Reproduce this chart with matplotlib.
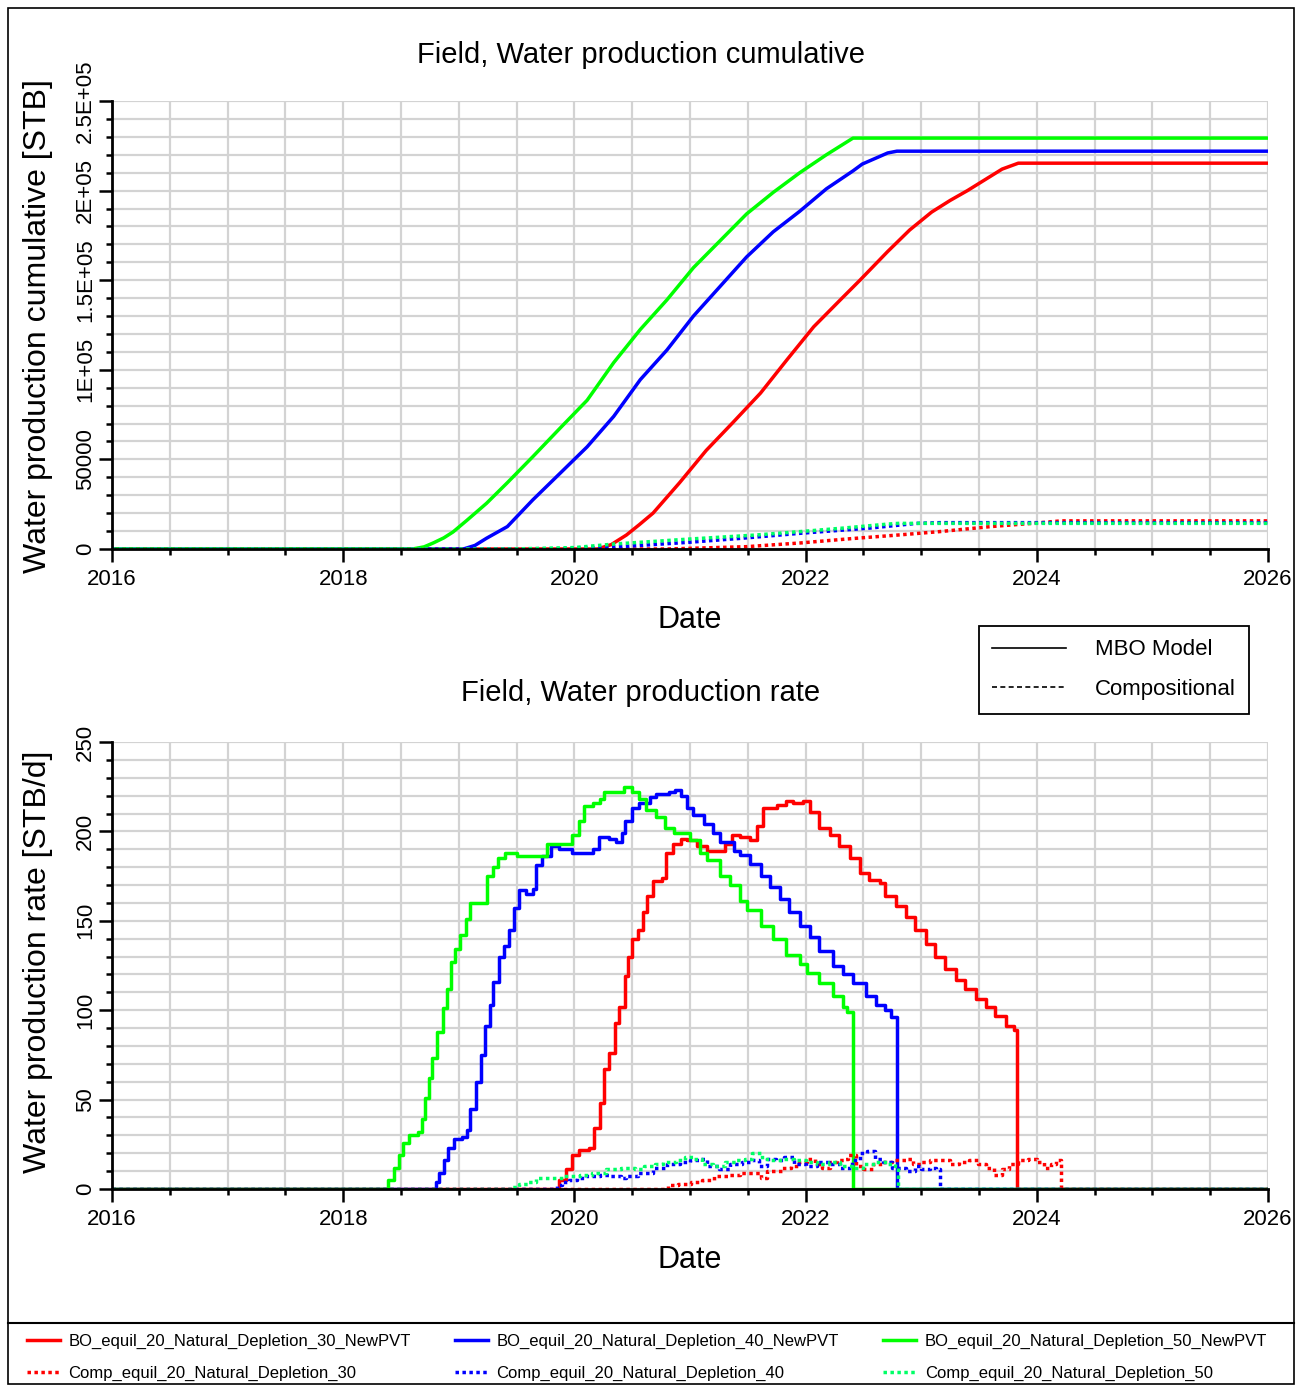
import matplotlib.pyplot as plt
from matplotlib.lines import Line2D
from matplotlib.patches import Rectangle

plt.rcParams["font.family"] = ["Liberation Sans", "DejaVu Sans"]

# ---------------- cumulative water production (STB) ----------------
bo30_cum_t = [2016.0, 2020.20, 2020.32, 2020.45, 2020.56, 2020.68, 2020.91, 2021.14, 2021.37, 2021.61,
              2021.84, 2022.07, 2022.30, 2022.47, 2022.71, 2022.90, 2023.09, 2023.25, 2023.40, 2023.55,
              2023.70, 2023.84, 2026.0]
bo30_cum = [0, 0, 2500, 7800, 13500, 20000, 37000, 55000, 70500, 87000,
            105700, 124000, 139000, 150000, 166000, 178000, 188000, 194500, 200000, 206000,
            212000, 215300, 215300]

bo40_cum_t = [2016.0, 2019.04, 2019.14, 2019.24, 2019.42, 2019.64, 2019.88, 2020.11, 2020.34, 2020.57,
              2020.80, 2021.03, 2021.26, 2021.49, 2021.72, 2021.95, 2022.18, 2022.41, 2022.49,
              2022.71, 2022.79, 2026.0]
bo40_cum = [0, 0, 2000, 6000, 12500, 27400, 42500, 57000, 74000, 94500,
            111000, 130000, 146500, 163000, 177000, 188500, 201000, 211000, 214800,
            221000, 222000, 222000]

bo50_cum_t = [2016.0, 2018.60, 2018.70, 2018.78, 2018.87, 2018.95, 2019.07, 2019.24, 2019.42, 2019.64,
              2019.88, 2020.11, 2020.34, 2020.57, 2020.80, 2021.03, 2021.26, 2021.49, 2021.72, 2021.95,
              2022.18, 2022.41, 2026.0]
bo50_cum = [0, 0, 1200, 3400, 6200, 9500, 16000, 25500, 37000, 51500,
            67700, 83000, 104000, 122500, 139000, 157000, 172000, 187000, 199000, 210000,
            220000, 229300, 229300]

comp30_cum_t = [2016.0, 2020.80, 2021.49, 2021.96, 2022.36, 2022.80, 2023.16, 2023.60, 2023.96,
                2024.21, 2026.0]
comp30_cum = [0, 0, 1300, 3400, 5600, 7800, 9700, 12500, 14300, 15700, 15700]

comp40_cum_t = [2016.0, 2019.85, 2020.40, 2020.98, 2021.45, 2021.96, 2022.56, 2022.96, 2023.16, 2026.0]
comp40_cum = [0, 0, 1300, 3700, 6000, 8800, 11700, 14300, 14700, 14700]

comp50_cum_t = [2016.0, 2019.45, 2020.00, 2020.35, 2020.98, 2021.57, 2021.95, 2022.33, 2022.71,
                2022.80, 2026.0]
comp50_cum = [0, 0, 800, 2800, 5500, 7800, 9700, 11700, 13900, 14300, 14300]

# ---------------- water production rate (STB/d) ----------------
bo30_rate_t = [2016.0, 2019.87, 2019.93, 2019.98, 2020.04, 2020.13, 2020.17, 2020.22, 2020.26, 2020.30,
               2020.35, 2020.39, 2020.44, 2020.46, 2020.50, 2020.55, 2020.59, 2020.63, 2020.68, 2020.76,
               2020.79, 2020.85, 2020.92, 2020.97, 2021.06, 2021.15, 2021.23, 2021.30, 2021.36, 2021.43,
               2021.52, 2021.58, 2021.63, 2021.75, 2021.83, 2021.89, 2021.98, 2022.04, 2022.12, 2022.21,
               2022.29, 2022.38, 2022.47, 2022.55, 2022.64, 2022.69, 2022.78, 2022.87, 2022.95, 2023.04,
               2023.12, 2023.21, 2023.30, 2023.38, 2023.47, 2023.56, 2023.64, 2023.73, 2023.80, 2023.83,
               2026.0]
bo30_rate = [0, 5, 11, 19, 22, 23, 34, 48, 67, 76,
             93, 102, 119, 130, 140, 145, 155, 164, 172, 174,
             188, 193, 196, 195, 192, 189, 189, 193, 198, 197,
             195, 203, 213, 215, 217, 216, 217, 211, 202, 198,
             192, 185, 177, 173, 171, 164, 158, 152, 145, 137,
             130, 123, 117, 112, 106, 102, 97, 91, 89, 0,
             0]

bo40_rate_t = [2016.0, 2018.80, 2018.83, 2018.87, 2018.91, 2018.96, 2019.03, 2019.07, 2019.10, 2019.15,
               2019.19, 2019.23, 2019.27, 2019.30, 2019.35, 2019.39, 2019.43, 2019.48, 2019.52, 2019.58,
               2019.64, 2019.67, 2019.72, 2019.80, 2019.87, 2019.98, 2020.07, 2020.16, 2020.21, 2020.30,
               2020.36, 2020.41, 2020.44, 2020.50, 2020.56, 2020.65, 2020.71, 2020.82, 2020.87, 2020.92,
               2020.97, 2021.03, 2021.12, 2021.20, 2021.26, 2021.38, 2021.43, 2021.52, 2021.61, 2021.69,
               2021.78, 2021.86, 2021.95, 2022.04, 2022.12, 2022.24, 2022.32, 2022.41, 2022.52, 2022.61,
               2022.69, 2022.74, 2022.79, 2026.0]
bo40_rate = [0, 4, 9, 16, 23, 28, 29, 33, 45, 60,
             75, 91, 103, 116, 130, 136, 145, 157, 167, 165,
             168, 181, 186, 192, 190, 188, 188, 190, 197, 196,
             194, 199, 206, 213, 216, 219, 221, 222, 223, 220,
             213, 209, 204, 199, 194, 189, 187, 182, 175, 169,
             162, 155, 147, 141, 133, 125, 120, 115, 108, 103,
             100, 96, 0, 0]

bo50_rate_t = [2016.0, 2018.39, 2018.44, 2018.48, 2018.52, 2018.57, 2018.65, 2018.68, 2018.71, 2018.74,
               2018.77, 2018.81, 2018.86, 2018.90, 2018.93, 2018.97, 2019.01, 2019.06, 2019.10, 2019.24,
               2019.30, 2019.34, 2019.40, 2019.50, 2019.76, 2019.98, 2020.04, 2020.08, 2020.16, 2020.22,
               2020.26, 2020.39, 2020.43, 2020.50, 2020.56, 2020.62, 2020.71, 2020.78, 2020.86, 2021.00,
               2021.09, 2021.15, 2021.26, 2021.35, 2021.43, 2021.49, 2021.61, 2021.72, 2021.83, 2021.95,
               2022.01, 2022.12, 2022.24, 2022.32, 2022.36, 2022.41, 2026.0]
bo50_rate = [0, 5, 12, 19, 26, 30, 32, 39, 51, 62,
             73, 88, 101, 112, 127, 134, 142, 151, 160, 175,
             180, 185, 188, 186, 193, 198, 206, 214, 216, 218,
             222, 222, 225, 222, 218, 212, 208, 202, 199, 195,
             188, 184, 175, 170, 161, 156, 147, 140, 131, 126,
             121, 115, 108, 102, 99, 0, 0]

comp30_rate_t = [2016.0, 2020.81, 2020.90, 2021.01, 2021.10, 2021.21, 2021.34, 2021.43, 2021.51, 2021.61,
                 2021.67, 2021.74, 2021.80, 2021.87, 2021.94, 2022.01, 2022.08, 2022.14, 2022.21, 2022.27,
                 2022.33, 2022.37, 2022.44, 2022.50, 2022.58, 2022.67, 2022.75, 2022.87, 2022.93, 2023.00,
                 2023.08, 2023.16, 2023.25, 2023.33, 2023.41, 2023.49, 2023.56, 2023.63, 2023.70, 2023.76,
                 2023.84, 2023.92, 2024.00, 2024.06, 2024.12, 2024.17, 2024.21, 2026.0]
comp30_rate = [0, 2, 3, 4, 5, 7, 8, 9, 9, 6,
               10, 10, 12, 13, 15, 17, 14, 12, 15, 16,
               17, 19, 13, 11, 14, 15, 16, 17, 14, 15,
               16, 16, 14, 15, 16, 14, 12, 8, 11, 14,
               16, 17, 15, 12, 14, 16, 0, 0]

comp40_rate_t = [2016.0, 2019.85, 2019.89, 2019.95, 2020.02, 2020.10, 2020.22, 2020.30, 2020.40, 2020.45,
                 2020.55, 2020.68, 2020.80, 2020.91, 2021.00, 2021.08, 2021.15, 2021.25, 2021.35, 2021.45,
                 2021.54, 2021.60, 2021.67, 2021.74, 2021.81, 2021.90, 2022.00, 2022.10, 2022.20, 2022.30,
                 2022.40, 2022.47, 2022.53, 2022.60, 2022.67, 2022.75, 2022.87, 2022.95, 2023.00, 2023.08,
                 2023.13, 2023.16, 2026.0]
comp40_rate = [0, 2, 4, 5, 6, 7, 8, 7, 6, 7,
               9, 12, 14, 15, 16, 17, 13, 11, 14, 15,
               16, 13, 17, 16, 18, 14, 13, 15, 14, 12,
               16, 20, 21, 17, 15, 12, 10, 13, 11, 12,
               11, 0, 0]

comp50_rate_t = [2016.0, 2019.45, 2019.52, 2019.60, 2019.67, 2019.80, 2019.90, 2020.05, 2020.15, 2020.27,
                 2020.40, 2020.52, 2020.60, 2020.70, 2020.77, 2020.88, 2020.96, 2021.03, 2021.10, 2021.20,
                 2021.30, 2021.40, 2021.48, 2021.54, 2021.62, 2021.70, 2021.80, 2021.90, 2022.00, 2022.10,
                 2022.20, 2022.30, 2022.40, 2022.50, 2022.60, 2022.70, 2022.77, 2022.80, 2026.0]
comp50_rate = [0, 1, 3, 4, 6, 6, 7, 8, 9, 11,
               12, 11, 13, 14, 15, 16, 18, 17, 14, 13,
               15, 16, 17, 20, 17, 16, 17, 16, 15, 14,
               15, 13, 12, 14, 15, 14, 13, 0, 0]

bo_labels = ["BO_equil_20_Natural_Depletion_30_NewPVT",
             "BO_equil_20_Natural_Depletion_40_NewPVT",
             "BO_equil_20_Natural_Depletion_50_NewPVT"]
comp_labels = ["Comp_equil_20_Natural_Depletion_30",
               "Comp_equil_20_Natural_Depletion_40",
               "Comp_equil_20_Natural_Depletion_50"]
bo_colors = ["#ff0000", "#0000ff", "#00ff00"]
comp_colors = ["#ff0000", "#0000ff", "#00ff66"]

year_ticks = [2016, 2018, 2020, 2022, 2024, 2026]
cum_ticks = [0, 50000, 100000, 150000, 200000, 250000]
cum_tick_labels = ["0", "50000", "1E+05", "1.5E+05", "2E+05", "2.5E+05"]
rate_ticks = [0, 50, 100, 150, 200, 250]

W, H = 1303, 1385
fig = plt.figure(figsize=(W / 100, H / 100), dpi=100)


def fx(x):
    return x / W


def fy(y):
    return 1 - y / H


DOT = (0, (1, 1))


def style_axes(ax, ymax, yticks, ylabels, yminor):
    ax.set_xlim(2016, 2026)
    ax.set_ylim(0, ymax)
    ax.set_xticks(year_ticks, labels=[str(y) for y in year_ticks])
    ax.set_xticks([2016 + 0.5 * i for i in range(21)], minor=True)
    ax.set_yticks(yticks, labels=ylabels, rotation=90, va="center")
    ax.set_yticks(list(range(0, ymax + 1, yminor)), minor=True)
    ax.grid(True, which="both", color="#d3d3d3", lw=1.6)
    ax.set_axisbelow(True)
    for s in ["top", "right"]:
        ax.spines[s].set_visible(False)
    for s in ["left", "bottom"]:
        ax.spines[s].set_linewidth(2)
    ax.tick_params(which="major", length=9.5, width=1.8, labelsize=16)
    ax.tick_params(which="minor", length=4.5, width=1.8)
    ax.tick_params(axis="y", pad=2)
    ax.tick_params(axis="x", pad=5)


# top: cumulative
ax1 = fig.add_axes([fx(112), fy(549), 1156 / W, 448 / H])
for t, v, c in zip([bo30_cum_t, bo40_cum_t, bo50_cum_t], [bo30_cum, bo40_cum, bo50_cum], bo_colors):
    ax1.plot(t, v, color=c, lw=2.5)
for t, v, c in zip([comp30_cum_t, comp40_cum_t, comp50_cum_t], [comp30_cum, comp40_cum, comp50_cum], comp_colors):
    ax1.plot(t, v, color=c, lw=2.5, ls=DOT)
style_axes(ax1, 250000, cum_ticks, cum_tick_labels, 10000)

# bottom: rate
ax2 = fig.add_axes([fx(112), fy(1189), 1156 / W, 447 / H])
for t, v, c in zip([bo30_rate_t, bo40_rate_t, bo50_rate_t], [bo30_rate, bo40_rate, bo50_rate], bo_colors):
    ax2.plot(t, v, color=c, lw=2.5, drawstyle="steps-post")
for t, v, c in zip([comp30_rate_t, comp40_rate_t, comp50_rate_t], [comp30_rate, comp40_rate, comp50_rate], comp_colors):
    ax2.plot(t, v, color=c, lw=2.5, ls=DOT, drawstyle="steps-post")
style_axes(ax2, 250, rate_ticks, [str(v) for v in rate_ticks], 10)

# titles and axis labels
fig.text(fx(641), fy(55), "Field, Water production cumulative", ha="center", va="center", fontsize=21)
fig.text(fx(641), fy(693), "Field, Water production rate", ha="center", va="center", fontsize=21)
fig.text(fx(690), fy(620), "Date", ha="center", va="center", fontsize=22)
fig.text(fx(690), fy(1260), "Date", ha="center", va="center", fontsize=22)
fig.text(fx(38), fy(326), "Water production cumulative [STB]", rotation=90,
         ha="center", va="center", fontsize=23)
fig.text(fx(38), fy(962), "Water production rate [STB/d]", rotation=90,
         ha="center", va="center", fontsize=23)

# model-type legend
type_handles = [Line2D([], [], color="black", lw=1.2),
                Line2D([], [], color="black", lw=1.2, ls=(0, (3, 2)))]
leg1 = fig.legend(type_handles, ["MBO Model", "Compositional"], loc="upper left",
                  bbox_to_anchor=(fx(979), fy(626)), fontsize=16, frameon=True,
                  fancybox=False, edgecolor="black", framealpha=1, borderpad=0.6,
                  labelspacing=0.85, handlelength=3.3, handletextpad=1.3, borderaxespad=0)
leg1.get_frame().set_linewidth(1.3)

# case legend (column-wise order so each column is one case)
case_handles, case_labels = [], []
for i in range(3):
    case_handles.append(Line2D([], [], color=bo_colors[i], lw=2.5))
    case_labels.append(bo_labels[i])
    case_handles.append(Line2D([], [], color=comp_colors[i], lw=2.5, ls=DOT))
    case_labels.append(comp_labels[i])
fig.legend(case_handles, case_labels, ncol=3, loc="upper left", bbox_to_anchor=(fx(20), fy(1327)),
           frameon=False, fontsize=12, handlelength=2.0, handletextpad=0.5,
           columnspacing=2.65, labelspacing=1.0, borderaxespad=0)

# outer frame and separator
fig.add_artist(Rectangle((fx(8), fy(1384)), (1294 - 8) / W, (1384 - 8) / H, transform=fig.transFigure,
                         fill=False, edgecolor="black", lw=1.2))
fig.add_artist(Line2D([fx(8), fx(1294)], [fy(1323), fy(1323)], transform=fig.transFigure,
                      color="black", lw=1.5))

fig.savefig("out.png", dpi=100)
